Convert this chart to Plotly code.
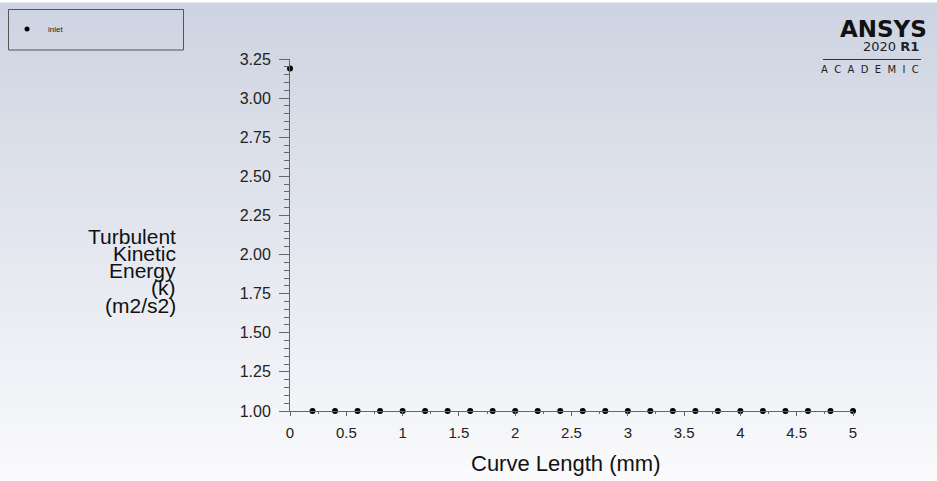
import plotly.graph_objects as go

# Data
curve_length = [0.0, 0.2, 0.4, 0.6, 0.8, 1.0, 1.2, 1.4, 1.6, 1.8, 2.0, 2.2, 2.4,
                2.6, 2.8, 3.0, 3.2, 3.4, 3.6, 3.8, 4.0, 4.2, 4.4, 4.6, 4.8, 5.0]
tke = [3.19] + [1.0] * 25
series_name = "inlet"
y_title_lines = ["Turbulent", "Kinetic", "Energy", "(k)", "(m2/s2)"]
x_title = "Curve Length (mm)"
x_ticks = [0, 0.5, 1, 1.5, 2, 2.5, 3, 3.5, 4, 4.5, 5]
x_ticktext = ["0", "0.5", "1", "1.5", "2", "2.5", "3", "3.5", "4", "4.5", "5"]
y_ticks = [1, 1.25, 1.5, 1.75, 2, 2.25, 2.5, 2.75, 3, 3.25]

W, H = 937, 481
L, R, T, B = 290, 84, 59, 70
PW, PH = W - L - R, H - T - B


def px_x(px):
    return (px - L) / PW


def px_y(py):
    return 1 - (py - T) / PH


fig = go.Figure()
fig.add_trace(go.Scatter(
    x=curve_length, y=tke, mode="markers", name=series_name,
    marker=dict(color="black", size=6),
    cliponaxis=False, showlegend=False,
))

shapes = []
# background gradient
top = (205, 211, 225)
bot = (250, 250, 252)
n = 80
for i in range(n):
    t = i / (n - 1)
    c = tuple(round(top[k] + (bot[k] - top[k]) * t) for k in range(3))
    y0 = i * H / n
    y1 = (i + 1) * H / n + 0.5
    shapes.append(dict(type="rect", xref="paper", yref="paper",
                       x0=px_x(0), x1=px_x(W), y0=px_y(y1), y1=px_y(y0),
                       fillcolor="rgb(%d,%d,%d)" % c, line=dict(width=0),
                       layer="below"))
shapes.append(dict(type="rect", xref="paper", yref="paper",
                   x0=px_x(0), x1=px_x(W), y0=px_y(2.5), y1=px_y(0),
                   fillcolor="white", line=dict(width=0), layer="below"))
# legend box
shapes.append(dict(type="rect", xref="paper", yref="paper",
                   x0=px_x(8.5), x1=px_x(183.5), y0=px_y(50), y1=px_y(9.5),
                   line=dict(color="#555555", width=1), fillcolor="rgba(0,0,0,0)"))
shapes.append(dict(type="circle", xref="paper", yref="paper",
                   x0=px_x(24.5), x1=px_x(29.5), y0=px_y(31.5), y1=px_y(26.5),
                   fillcolor="black", line=dict(color="black", width=0)))
# logo line
shapes.append(dict(type="line", xref="paper", yref="paper",
                   x0=px_x(823), x1=px_x(921), y0=px_y(59.5), y1=px_y(59.5),
                   line=dict(color="#333333", width=1)))

ann = []
ann.append(dict(text=series_name, x=px_x(46), y=px_y(29), xref="paper", yref="paper",
                xanchor="left", yanchor="middle", showarrow=False,
                font=dict(size=8, color="#222222", family="Liberation Sans")))
ann.append(dict(text="<b>ANSYS</b>", x=px_x(929), y=px_y(29), xref="paper", yref="paper",
                xanchor="right", yanchor="middle", showarrow=False,
                font=dict(size=23, color="#111111", family="DejaVu Sans")))
ann.append(dict(text="2020 <b>R1</b>", x=px_x(921), y=px_y(47), xref="paper", yref="paper",
                xanchor="right", yanchor="middle", showarrow=False,
                font=dict(size=13, color="#222222", family="DejaVu Sans")))
ann.append(dict(text="&nbsp;&nbsp;".join("ACADEMIC"), x=px_x(921), y=px_y(69), xref="paper", yref="paper",
                xanchor="right", yanchor="middle", showarrow=False,
                font=dict(size=10, color="#222222", family="DejaVu Sans")))
for i, line in enumerate(y_title_lines):
    ann.append(dict(text=line, x=px_x(178), y=px_y(236 + i * 17.3), xref="paper", yref="paper",
                    xanchor="right", yanchor="middle", showarrow=False,
                    font=dict(size=21, color="#111111", family="Liberation Sans")))
ann.append(dict(text=x_title, x=px_x(566), y=px_y(463), xref="paper", yref="paper",
                xanchor="center", yanchor="middle", showarrow=False,
                font=dict(size=22, color="#111111", family="Liberation Sans")))

fig.update_layout(
    width=W, height=H,
    margin=dict(l=L, r=R, t=T, b=B, pad=0),
    paper_bgcolor="white", plot_bgcolor="rgba(0,0,0,0)",
    shapes=shapes, annotations=ann,
    font=dict(family="Liberation Sans", color="#222222", size=15),
)
fig.update_xaxes(
    range=[0, 5], showgrid=False, zeroline=False, showline=True,
    linecolor="#666666", linewidth=1, ticks="outside", ticklen=4,
    tickcolor="#666666", tickvals=x_ticks, ticktext=x_ticktext,
    tickfont=dict(size=15, color="#222222"), ticklabelstandoff=4,
    minor=dict(ticks="outside", ticklen=2, dtick=0.25, tickcolor="#666666"),
)
fig.update_yaxes(
    range=[1, 3.25], showgrid=False, zeroline=False, showline=True,
    linecolor="#666666", linewidth=1, ticks="outside", ticklen=10,
    tickcolor="#666666", tickvals=y_ticks,
    tickformat=".2f", tickfont=dict(size=16, color="#222222"), ticklabelstandoff=5,
    minor=dict(ticks="outside", ticklen=5, dtick=0.05, tickcolor="#666666"),
)

fig.write_html("out.html", config={"displayModeBar": False},
               post_script="document.body.style.margin='0';document.body.style.overflow='hidden';")
